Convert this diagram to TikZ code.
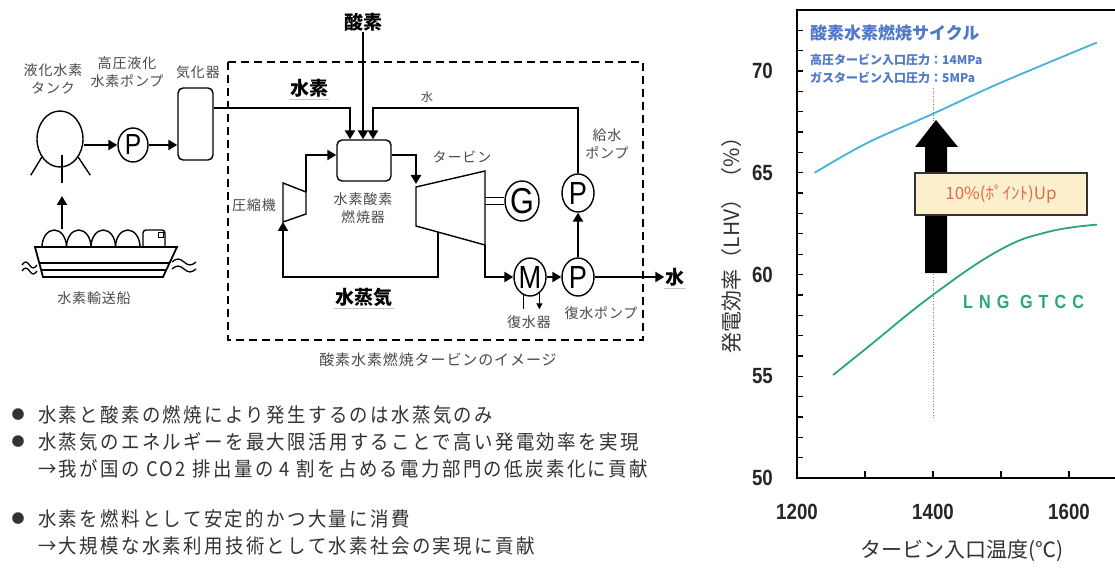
\documentclass[tikz,border=0pt]{standalone}
\usepackage{fontspec}
\usetikzlibrary{arrows.meta,calc,shapes.geometric}
\newfontfamily\jp{Noto Sans CJK JP}
\newfontfamily\jpwide[FakeStretch=0.92,LetterSpace=12]{Noto Sans CJK JP}
\newfontfamily\jplab[LetterSpace=6]{Noto Sans CJK JP}
\newfontfamily\numf[FakeStretch=0.85]{Liberation Sans}
\newfontfamily\numfsp[FakeStretch=0.85,LetterSpace=32]{Liberation Sans}
\definecolor{labgray}{HTML}{4A4A4A}
\definecolor{txtgray}{HTML}{333333}
\definecolor{cyccyan}{HTML}{45B2D8}
\definecolor{lnggreen}{HTML}{2AA872}
\definecolor{ttlblue}{HTML}{4F78C8}
\definecolor{boxfill}{HTML}{FCEFCB}
\definecolor{boxtext}{HTML}{E06A4E}
\begin{document}
\begin{tikzpicture}[x=1pt,y=-1pt,
  flow/.style={line width=2.8pt,-{Triangle[length=9pt,width=10pt]}},
  ring/.style={ellipse,draw,line width=1.4pt,inner sep=0pt,minimum width=32pt,minimum height=38pt,font=\fontsize{32}{32}\numf},
  lab/.style={font=\fontsize{14}{18}\jplab,text=labgray,inner sep=0pt,align=center},
  boldlab/.style={font=\fontsize{19}{20}\jp\bfseries,inner sep=1pt},
  uline/.style={draw=gray!45,line width=1.2pt},
  bullettext/.style={font=\fontsize{20}{22}\jpwide,text=txtgray,anchor=west,inner sep=0pt},
  dot/.style={font=\fontsize{13}{14}\jp,text=txtgray,inner sep=0pt},
  ticklab/.style={font=\fontsize{22}{22}\numf\bfseries,text=black!85,inner sep=0pt},
]
\useasboundingbox (0,0) rectangle (1115,569);
\fill[white] (0,0) rectangle (1115,569);

% ---------------- plant flow sheet ----------------
% liquid hydrogen tank with legs
\node[ellipse,draw,line width=1.4pt,minimum width=46pt,minimum height=56pt,inner sep=0pt] (tank) at (60,139) {};
\draw[line width=1.4pt] (tank.-135) -- ++(-11,18);
\draw[line width=1.4pt] (tank.-45) -- ++(12,18);
\draw[line width=1.2pt] ([xshift=2pt,yshift=13pt]tank.south) -- ++(0,28);
\node[lab] (tanklab) at (53,79) {液化水素\\タンク};

% high pressure pump and vaporizer
\node[ring,minimum width=30pt,minimum height=34pt,font=\fontsize{29}{29}\numf] (p1) at (133,145) {P};
\node[lab] (p1lab) at (127,72) {高圧液化\\水素ポンプ};
\node[draw,line width=1.4pt,rounded corners=5pt,minimum width=35pt,minimum height=72pt,inner sep=0pt] (vap) at (195.5,124) {};
\node[lab] (vaplab) at (198,72) {気化器};
\draw[flow] (p1.west -| tank.east) -- (p1.west);
\draw[flow] (p1) -- (p1 -| vap.west);

% hydrogen carrier ship
\coordinate (shiptop) at (62,229);
\draw[flow] (shiptop) -- ++(0,-33);
\foreach \i in {0,...,3}
  \draw[line width=1.4pt] ({42+24.5*\i},247) arc[start angle=180,end angle=0,x radius=12.25pt,y radius=17pt];
\draw[line width=1.4pt,rounded corners=3pt] (143,247) -- (143,230) -- (165,230) -- (165,247);
\draw[line width=0.8pt] (158,232) rectangle (163,237);
\draw[line width=1.8pt] (35,247) -- (177,247) -- (163,277) -- (43,277) -- cycle;
\draw[line width=1.6pt] (39.3,263) -- (169.5,263);
\draw[line width=1.6pt] (41.1,270) -- (166.3,270);
\foreach \yy in {265,271}
  \draw[line width=1.3pt] (22,\yy) sin (25.75,\yy-3) cos (29.5,\yy) sin (33.25,\yy+3) cos (37,\yy);
\foreach \yy in {262,269}
  \draw[line width=1.3pt] (172,\yy) sin (178,\yy-3) cos (184,\yy) sin (190,\yy+3) cos (196,\yy);
\node[lab] (shiplab) at (94,298) {水素輸送船};

% dashed boundary of the oxy-hydrogen turbine and its caption
\draw[line width=2pt,dash pattern=on 8pt off 5pt] (228,62) rectangle (643,340);
\node[lab,font=\fontsize{15}{18}\jplab] (caption) at (438,360) {酸素水素燃焼タービンのイメージ};

% combustor
\node[draw,line width=1.4pt,rounded corners=5pt,minimum width=54pt,minimum height=41pt,inner sep=0pt] (cmb) at (364,160.5) {};
\node[lab] (cmblab) at (363,208) {水素酸素\\燃焼器};

% compressor
\coordinate (cTL) at (283,183);
\coordinate (cTR) at (306,192);
\coordinate (cBR) at (306,214);
\coordinate (cBL) at (283,222);
\draw[line width=1.4pt] (cTL) -- (cTR) -- (cBR) -- (cBL) -- cycle;
\node[lab] (cmplab) at (254,205) {圧縮機};

% turbine
\coordinate (tTL) at (416,187);
\coordinate (tTR) at (485,171);
\coordinate (tBR) at (485,245);
\coordinate (tBL) at (416,226);
\draw[line width=1.4pt] (tTL) -- (tTR) -- (tBR) -- (tBL) -- cycle;
\node[lab] (turblab) at (462,157) {タービン};

% generator on the turbine shaft
\node[ring,minimum width=34pt,minimum height=40pt,font=\fontsize{36}{36}\numf] (gen) at (522,201) {G};
\draw[line width=1.3pt] ([yshift=3.5pt]gen.west) -- ([yshift=3.5pt]gen.west -| tTR);
\draw[line width=1.3pt] ([yshift=-3.5pt]gen.west) -- ([yshift=-3.5pt]gen.west -| tTR);

% condenser, condensate pump, feed water pump
\node[ring,font=\fontsize{32}{32}\numf] (cond) at (530,277) {M};
\node[ring] (cp) at (578,277) {P};
\node[ring] (fp) at (578,193) {P};
\draw[line width=1.2pt] (cond.-110) -- ++(0,14);
\draw[line width=1.2pt,-{Triangle[length=6pt,width=6pt]}] (cond.-60) -- ++(0,16);
\node[lab] (condlab) at (529,322) {復水器};
\node[lab] (cplab) at (601,313) {復水ポンプ};
\node[lab] (fplab) at (607,144) {給水\\ポンプ};

% streams into the combustor
\node[boldlab] (o2) at (363,22) {酸素};
\node[boldlab] (h2) at (309,88) {水素};
\draw[uline] ([yshift=-1pt]h2.south west) -- ([yshift=-1pt]h2.south east);
\node[lab,font=\fontsize{12}{14}\jp] (wlab) at (427,97) {水};
\coordinate (hy) at (350,108);
\coordinate (wt) at (373,108);
\draw[flow] (hy -| vap.east) -- (hy) -- (hy |- cmb.north);
\draw[flow] (o2.south) -- (o2.south |- cmb.north);
\draw[flow] (fp.north) |- (wt) -- (wt |- cmb.north);

% working fluid loop
\draw[flow] (cTR) |- ([yshift=5.5pt]cmb.west);
\draw[flow] ([yshift=5.5pt]cmb.east) -| ([yshift=3pt]tTL);
\coordinate (lp) at (283,277);
\draw[flow] ($(tBL)!0.32!(tBR)$) |- (lp) -- (cBL);
\node[boldlab] (steam) at (364,297) {水蒸気};
\draw[uline] ([yshift=-1pt]steam.south west) -- ([yshift=-1pt]steam.south east);

% turbine exhaust to condenser and water out
\draw[flow] (tBR) |- (cond.west);
\draw[flow] (cond) -- (cp);
\draw[flow] (cp) -- (fp);
\node[boldlab] (wout) at (675,277) {水};
\draw[uline] ([yshift=-1pt]wout.south west) -- ([yshift=-1pt]wout.south east);
\draw[flow] (cp) -- (wout.west);

% ---------------- bullet notes ----------------
\node[dot] (d1) at (18,415) {●};
\node[bullettext] (n1) at (38,415) {水素と酸素の燃焼により発生するのは水蒸気のみ};
\node[dot] (d2) at (18,442) {●};
\node[bullettext] (n2) at (38,442) {水蒸気のエネルギーを最大限活用することで高い発電効率を実現};
\node[bullettext] (n3) at (38,469) {→我が国の CO2 排出量の 4 割を占める電力部門の低炭素化に貢献};
\node[dot] (d4) at (18,519) {●};
\node[bullettext] (n4) at (38,519) {水素を燃料として安定的かつ大量に消費};
\node[bullettext] (n5) at (38,546) {→大規模な水素利用技術として水素社会の実現に貢献};

% ---------------- efficiency chart ----------------
\draw[line width=2.2pt] (1115,10) -- (797,10) -- (797,478) -- (1115,478);
\foreach \v in {51,...,72}
  \draw[line width=1.3pt] (797,{478-(\v-50)*20.35}) -- ++(6,0);
\foreach \t in {1300,1400,1500,1600}
  \draw[line width=1.3pt] ({797+(\t-1200)*0.68},478) -- ++(0,-7);
\foreach \v in {50,55,60,65,70}
  \node[ticklab,anchor=east] (yt\v) at (773,{478-(\v-50)*20.35}) {\v};
\foreach \t in {1200,1400,1600}
  \node[ticklab] (xt\t) at ({797+(\t-1200)*0.68},512) {\t};
\node[font=\fontsize{21}{21}\jp,text=txtgray,rotate=90,inner sep=0pt] (ylab) at (732,240) {発電効率（LHV）（\%）};
\node[font=\fontsize{21}{21}\jp,text=txtgray,inner sep=0pt] (xlab) at (962,551) {タービン入口温度(℃)};

\begin{scope}[shift={(797pt,-478pt)},x=0.68pt,y=20.35pt]
  \draw[gray,line width=0.7pt,dotted] (200,2.95) -- (200,19.2);
  \draw[cyccyan,line width=1.8pt] plot[smooth,tension=0.6] coordinates
    {(26,15.0) (103,16.46) (200,17.9) (298,19.4) (441,21.4)};
  \draw[lnggreen,line width=1.8pt] plot[smooth,tension=0.7] coordinates
    {(53,5.06) (103,6.4) (200,9.0) (298,11.2) (370,12.1) (441,12.45)};
\end{scope}

% improvement arrow and its label
\fill[black] (925,273) -- (947,273) -- (947,147) -- (958,147) -- (936,120) -- (915,147) -- (925,147) -- cycle;
\node[draw=black!80,line width=1.5pt,fill=boxfill,minimum width=172pt,minimum height=42pt,inner sep=0pt,
      font=\fontsize{17}{17}\jp,text=boxtext] (gain) at (1001,194) {10\%(ﾎﾟｲﾝﾄ)Up};

\node[font=\fontsize{17}{17}\jp\bfseries,text=ttlblue,anchor=west,inner sep=0pt] (ttl) at (810,33) {酸素水素燃焼サイクル};
\node[font=\fontsize{12}{12}\jp\bfseries,text=ttlblue,anchor=west,inner sep=0pt] (sub1) at (810,60) {高圧タービン入口圧力：14MPa};
\node[font=\fontsize{12}{12}\jp\bfseries,text=ttlblue,anchor=west,inner sep=0pt] (sub2) at (810,78) {ガスタービン入口圧力：5MPa};
\node[font=\fontsize{19}{19}\numfsp\bfseries,text=lnggreen,anchor=west,inner sep=0pt] (lng) at (963,302) {LNG GTCC};
\end{tikzpicture}
\end{document}
